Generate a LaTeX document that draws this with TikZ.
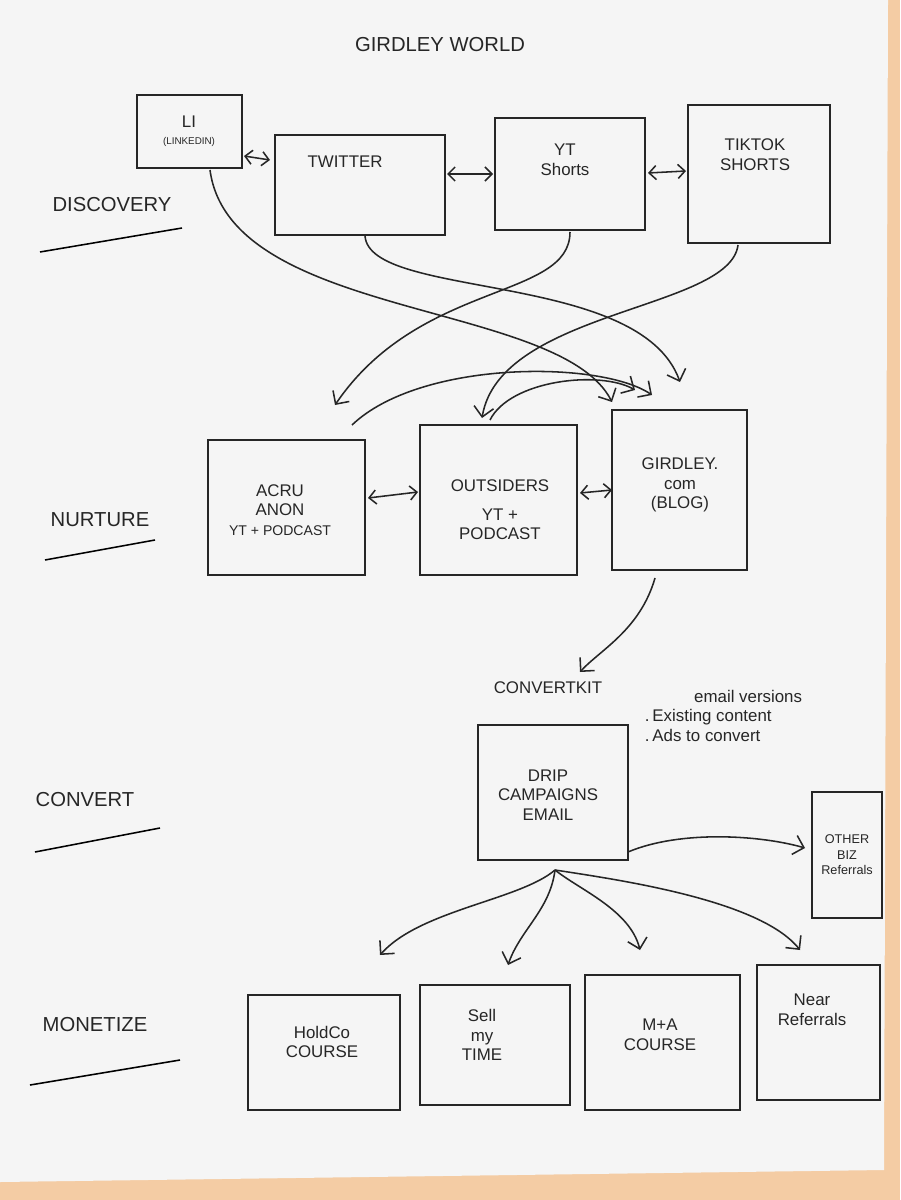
\documentclass[tikz,border=0pt]{standalone}
\usepackage{fontspec}
\setmainfont{Liberation Sans}
\usetikzlibrary{arrows.meta}
\begin{document}
\begin{tikzpicture}[x=0.025cm,y=-0.025cm,
  box/.style={draw=black!85,line width=1.3pt,fill=none},
  lbl/.style={align=center,font=\large,text=black!85},
  side/.style={font=\Large,text=black!85},
  ar/.style={-{Straight Barb[length=7pt]},line width=1.1pt,draw=black!85},
  dar/.style={{Straight Barb[length=5pt]}-{Straight Barb[length=5pt]},line width=1.1pt,draw=black!85}]
\useasboundingbox (0,0) rectangle (900,1200);
\fill[brown!45!orange!40] (0,0) rectangle (900,1200);
\fill[gray!8] (0,0) -- (888,0) -- (884,1170) -- (0,1182) -- cycle;
% title and row labels
\node[lbl,font=\Large] (title) at (440,45) {GIRDLEY WORLD};
\node[side] (disc) at (112,205) {DISCOVERY};
\draw[line width=1.1pt] (40,252) -- (182,228);
\node[side] (nur) at (100,520) {NURTURE};
\draw[line width=1.1pt] (45,560) -- (155,540);
\node[side] (conv) at (85,800) {CONVERT};
\draw[line width=1.1pt] (35,852) -- (160,828);
\node[side] (mon) at (95,1025) {MONETIZE};
\draw[line width=1.1pt] (30,1085) -- (180,1060);
% discovery boxes
\draw[box] (137,95) rectangle (242,168);
\node[lbl] (li) at (189,131) {LI\\[-2pt]{\scriptsize(LINKEDIN)}};
\draw[box] (275,135) rectangle (445,235);
\node[lbl] (tw) at (345,162) {TWITTER};
\draw[box] (495,118) rectangle (645,230);
\node[lbl] (yt) at (565,160) {YT\\Shorts};
\draw[box] (688,105) rectangle (830,243);
\node[lbl] (tt) at (755,155) {TIKTOK\\SHORTS};
% nurture boxes
\draw[box] (208,440) rectangle (365,575);
\node[lbl] (acru) at (280,510) {ACRU\\ANON\\{\normalsize YT + PODCAST}};
\draw[box] (420,425) rectangle (577,575);
\node[lbl] (out) at (500,510) {OUTSIDERS\\[6pt]YT +\\PODCAST};
\draw[box] (612,410) rectangle (747,570);
\node[lbl] (gir) at (680,485) {GIRDLEY.\\com\\(BLOG)};
% convert
\node[lbl] (ck) at (548,688) {CONVERTKIT};
\node[lbl,align=left,anchor=north west] (notes) at (640,685) {\hspace*{35pt}email versions\\.\,Existing content\\.\,Ads to convert};
\draw[box] (478,725) rectangle (628,860);
\node[lbl] (drip) at (548,795) {DRIP\\CAMPAIGNS\\EMAIL};
\draw[box] (812,792) rectangle (882,918);
\node[lbl,font=\small] (biz) at (847,855) {OTHER\\BIZ\\Referrals};
% monetize
\draw[box] (248,995) rectangle (400,1110);
\node[lbl] (hc) at (322,1042) {HoldCo\\COURSE};
\draw[box] (420,985) rectangle (570,1105);
\node[lbl] (sell) at (482,1035) {Sell\\my\\TIME};
\draw[box] (585,975) rectangle (740,1110);
\node[lbl] (ma) at (660,1035) {M+A\\COURSE};
\draw[box] (757,965) rectangle (880,1100);
\node[lbl] (near) at (812,1010) {Near\\Referrals};
% coordinates
\coordinate (liB) at (210,170); \coordinate (twB) at (365,236);
\coordinate (ytB) at (570,232); \coordinate (ttB) at (738,245);
\coordinate (gA) at (612,402); \coordinate (gB) at (680,382);
\coordinate (gC) at (640,385); \coordinate (gD) at (610,390);
\coordinate (acT) at (335,405); \coordinate (ouT) at (482,418);
\coordinate (dB) at (555,870);
% discovery arrows
\draw[dar] (244,156) -- (270,160);
\draw[dar] (447,174) -- (493,174);
\draw[dar] (648,173) -- (686,171);
\draw[ar] (liB) .. controls (230,320) and (560,300) .. (gA);
\draw[ar] (twB) .. controls (370,300) and (640,270) .. (gB);
\draw[ar] (ytB) .. controls (570,300) and (420,280) .. (acT);
\draw[ar] (ttB) .. controls (730,310) and (500,310) .. (ouT);
\draw[ar] (352,425) .. controls (420,360) and (600,360) .. (652,395);
\draw[ar] (490,420) .. controls (510,380) and (600,370) .. (635,390);
% nurture arrows
\draw[dar] (368,498) -- (418,492);
\draw[dar] (580,493) -- (612,490);
\draw[ar] (655,578) .. controls (640,630) and (600,650) .. (580,672);
% convert arrows
\draw[ar] (628,852) .. controls (680,830) and (760,835) .. (805,848);
\draw[ar] (dB) .. controls (520,900) and (420,910) .. (380,955);
\draw[ar] (dB) .. controls (550,910) and (520,930) .. (508,965);
\draw[ar] (dB) .. controls (580,890) and (630,910) .. (640,950);
\draw[ar] (dB) .. controls (620,880) and (760,900) .. (800,950);
\end{tikzpicture}
\end{document}
